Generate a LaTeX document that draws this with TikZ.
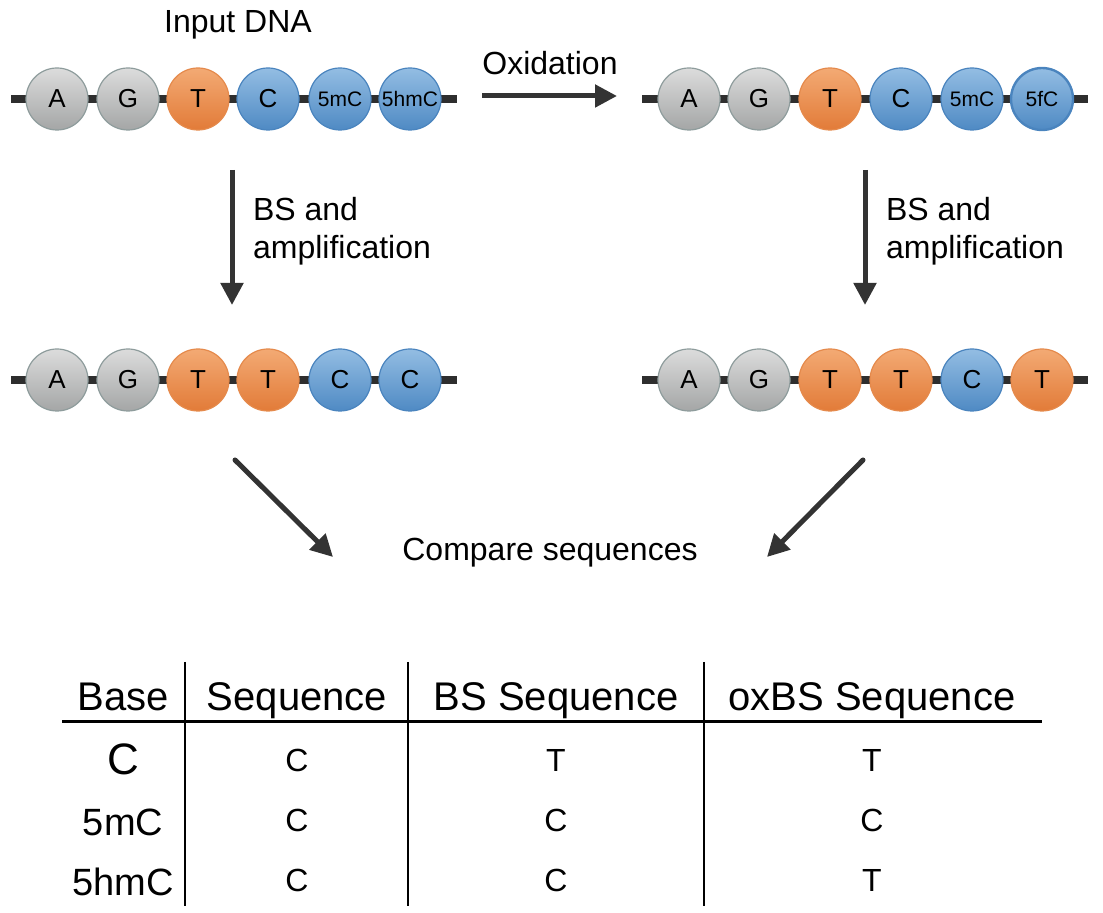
\documentclass[tikz,border=0pt]{standalone}
\usepackage{fontspec}
\setmainfont{Liberation Sans}
\usetikzlibrary{arrows.meta}

\definecolor{strandcol}{HTML}{2E2E2E}
\definecolor{arrowcol}{HTML}{333333}
\definecolor{graytop}{HTML}{DCDCDC}
\definecolor{graybot}{HTML}{A4A6A6}
\definecolor{grayedge}{HTML}{8E9C9C}
\definecolor{orangetop}{HTML}{F3AA74}
\definecolor{orangebot}{HTML}{E27B38}
\definecolor{orangeedge}{HTML}{E58A4C}
\definecolor{bluetop}{HTML}{93BDE3}
\definecolor{bluebot}{HTML}{4F8AC4}
\definecolor{blueedge}{HTML}{4A84BE}

\tikzset{
  base/.style={circle,minimum size=31pt,inner sep=0pt,line width=0.6pt,
    font=\fontsize{13}{13}\selectfont},
  gbase/.style={base,draw=grayedge,top color=graytop,bottom color=graybot},
  tbase/.style={base,draw=orangeedge,top color=orangetop,bottom color=orangebot},
  cbase/.style={base,draw=blueedge,top color=bluetop,bottom color=bluebot},
  modbase/.style={cbase,font=\fontsize{10.5}{10.5}\selectfont},
  strand/.style={line width=4pt,draw=strandcol},
  flow/.style={line width=2.5pt,draw=arrowcol,-{Triangle[length=11pt,width=11pt]}},
  note/.style={font=\fontsize{16}{19}\selectfont,align=left},
  head/.style={anchor=base,font=\fontsize{20}{20}\selectfont},
  rowlab/.style={anchor=base,font=\fontsize{19}{19}\selectfont},
  cell/.style={anchor=base,font=\fontsize{16}{16}\selectfont}
}

\begin{document}
\begin{tikzpicture}[x=0.5pt,y=-0.5pt]
\path[use as bounding box] (0,0) rectangle (1103,913);

% input DNA
\node[note] (input) at (238,25) {Input DNA};
\coordinate (in-l) at (11,99);
\coordinate (in-r) at (457,99);
\draw[strand] (in-l) -- (in-r);
\node[gbase] (in1) at (57,99) {A};
\node[gbase] (in2) at (128,99) {G};
\node[tbase] (in3) at (198,99) {T};
\node[cbase] (in4) at (268,99) {C};
\node[modbase] (in5) at (340,99) {5mC};
\node[modbase] (in6) at (410,99) {5hmC};

% oxidised DNA
\coordinate (ox-l) at (642,99);
\coordinate (ox-r) at (1088,99);
\draw[strand] (ox-l) -- (ox-r);
\node[gbase] (ox1) at (689,99) {A};
\node[gbase] (ox2) at (759,99) {G};
\node[tbase] (ox3) at (830,99) {T};
\node[cbase] (ox4) at (901,99) {C};
\node[modbase] (ox5) at (972,99) {5mC};
\node[modbase,line width=1.2pt] (ox6) at (1042,99) {5fC};

% BS product
\coordinate (bs-l) at (11,380);
\coordinate (bs-r) at (457,380);
\draw[strand] (bs-l) -- (bs-r);
\node[gbase] (bs1) at (57,380) {A};
\node[gbase] (bs2) at (128,380) {G};
\node[tbase] (bs3) at (198,380) {T};
\node[tbase] (bs4) at (268,380) {T};
\node[cbase] (bs5) at (340,380) {C};
\node[cbase] (bs6) at (410,380) {C};

% oxBS product
\coordinate (oxbs-l) at (642,380);
\coordinate (oxbs-r) at (1088,380);
\draw[strand] (oxbs-l) -- (oxbs-r);
\node[gbase] (oxbs1) at (689,380) {A};
\node[gbase] (oxbs2) at (759,380) {G};
\node[tbase] (oxbs3) at (830,380) {T};
\node[tbase] (oxbs4) at (901,380) {T};
\node[cbase] (oxbs5) at (972,380) {C};
\node[tbase] (oxbs6) at (1042,380) {T};

% steps
\node[note] (oxlab) at (550,63) {Oxidation};
\coordinate (oxa-s) at (482,96);
\coordinate (oxa-e) at (617,96);
\draw[flow] (oxa-s) -- (oxa-e);

\coordinate (bsa-s) at (232,170);
\coordinate (bsa-e) at (232,305);
\draw[flow] (bsa-s) -- (bsa-e);
\node[note,anchor=west] (bslab) at (246,231) {BS and\\amplification};

\coordinate (oxbsa-s) at (865,170);
\coordinate (oxbsa-e) at (865,305);
\draw[flow] (oxbsa-s) -- (oxbsa-e);
\node[note,anchor=west] (oxbslab) at (879,231) {BS and\\amplification};

\node[note] (compare) at (550,553) {Compare sequences};
\coordinate (cmp-l) at (235,460);
\coordinate (cmp-le) at (333,557);
\coordinate (cmp-r) at (863,460);
\coordinate (cmp-re) at (767,557);
\draw[flow,line cap=round] (cmp-l) -- (cmp-le);
\draw[flow,line cap=round] (cmp-r) -- (cmp-re);

% table
\draw[line width=1.5pt] (62,722) -- (1042,722);
\draw[line width=1.2pt] (185,662) -- (185,906);
\draw[line width=1.2pt] (408,662) -- (408,906);
\draw[line width=1.2pt] (704,662) -- (704,906);

\node[head] (h1) at (123,711) {Base};
\node[head] (h2) at (297,711) {Sequence};
\node[head] (h3) at (556,711) {BS Sequence};
\node[head] (h4) at (872,711) {oxBS Sequence};

\node[rowlab,font=\fontsize{22}{22}\selectfont] (r1) at (123,775) {C};
\node[rowlab] (r2) at (123,835) {5mC};
\node[rowlab] (r3) at (123,895) {5hmC};

\node[cell] (c11) at (297,772) {C};
\node[cell] (c12) at (556,772) {T};
\node[cell] (c13) at (872,772) {T};
\node[cell] (c21) at (297,832) {C};
\node[cell] (c22) at (556,832) {C};
\node[cell] (c23) at (872,832) {C};
\node[cell] (c31) at (297,892) {C};
\node[cell] (c32) at (556,892) {C};
\node[cell] (c33) at (872,892) {T};
\end{tikzpicture}
\end{document}
